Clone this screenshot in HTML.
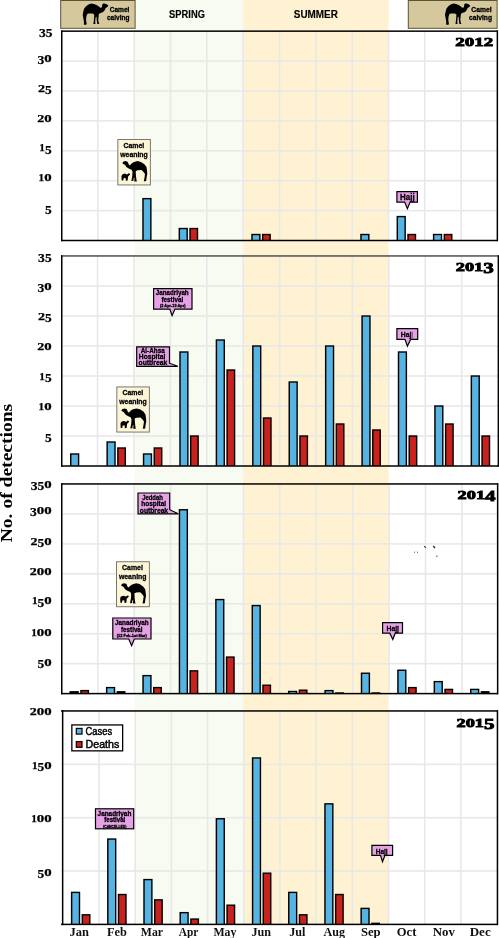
<!DOCTYPE html>
<html><head><meta charset="utf-8"><style>
html,body{margin:0;padding:0;background:#fff;}
svg{display:block;will-change:transform;}
.tk{font-family:"Liberation Serif",serif;font-weight:bold;fill:#000;stroke:#000;stroke-width:0.25px;}
.tick{font-family:"Liberation Serif",serif;font-weight:bold;font-size:12.5px;fill:#111;}
.year{font-family:"Liberation Serif",serif;font-weight:bold;font-size:13.5px;fill:#000;stroke:#000;stroke-width:0.9px;}
.xl{font-family:"Liberation Serif",serif;font-weight:bold;font-size:12px;fill:#111;}
.yt{font-family:"Liberation Serif",serif;font-weight:bold;font-size:17.5px;fill:#000;}
.an{font-family:"Liberation Sans",sans-serif;font-weight:bold;fill:#000;stroke:#000;stroke-width:0.3px;}
.lg{font-family:"Liberation Sans",sans-serif;fill:#000;stroke:#000;stroke-width:0.45px;}
.sea{font-family:"Liberation Sans",sans-serif;font-weight:bold;fill:#000;stroke:#000;stroke-width:0.15px;}
.hd{font-family:"Liberation Sans",sans-serif;font-weight:bold;fill:#000;stroke:#000;stroke-width:0.3px;}
</style></head><body>
<svg width="499" height="938" viewBox="0 0 499 938">
<rect x="134.60" y="0.00" width="108.60" height="924.00" fill="#f7fbf2" />
<rect x="243.20" y="0.00" width="145.40" height="924.00" fill="#fff2d2" />
<rect x="61.00" y="209.80" width="436.20" height="1.60" fill="#e8e8e8" />
<rect x="61.00" y="179.90" width="436.20" height="1.60" fill="#e8e8e8" />
<rect x="61.00" y="150.00" width="436.20" height="1.60" fill="#e8e8e8" />
<rect x="61.00" y="120.10" width="436.20" height="1.60" fill="#e8e8e8" />
<rect x="61.00" y="90.20" width="436.20" height="1.60" fill="#e8e8e8" />
<rect x="61.00" y="60.30" width="436.20" height="1.60" fill="#e8e8e8" />
<rect x="97.03" y="31.20" width="1.60" height="209.30" fill="#e8e8e8" />
<rect x="133.36" y="31.20" width="1.60" height="209.30" fill="#e8e8e8" />
<rect x="169.69" y="31.20" width="1.60" height="209.30" fill="#e8e8e8" />
<rect x="206.02" y="31.20" width="1.60" height="209.30" fill="#e8e8e8" />
<rect x="242.35" y="31.20" width="1.60" height="209.30" fill="#e8e8e8" />
<rect x="278.68" y="31.20" width="1.60" height="209.30" fill="#e8e8e8" />
<rect x="315.01" y="31.20" width="1.60" height="209.30" fill="#e8e8e8" />
<rect x="351.34" y="31.20" width="1.60" height="209.30" fill="#e8e8e8" />
<rect x="387.67" y="31.20" width="1.60" height="209.30" fill="#e8e8e8" />
<rect x="424.00" y="31.20" width="1.60" height="209.30" fill="#e8e8e8" />
<rect x="460.33" y="31.20" width="1.60" height="209.30" fill="#e8e8e8" />
<rect x="142.26" y="197.94" width="9.30" height="42.56" fill="#000" />
<rect x="143.71" y="199.34" width="6.45" height="41.16" fill="#56b3e2" />
<rect x="178.59" y="227.84" width="9.30" height="12.66" fill="#000" />
<rect x="180.04" y="229.24" width="6.45" height="11.26" fill="#56b3e2" />
<rect x="189.29" y="227.84" width="8.90" height="12.66" fill="#000" />
<rect x="190.74" y="229.24" width="6.05" height="11.26" fill="#c8221e" />
<rect x="251.25" y="233.82" width="9.30" height="6.68" fill="#000" />
<rect x="252.70" y="235.22" width="6.45" height="5.28" fill="#56b3e2" />
<rect x="261.95" y="233.82" width="8.90" height="6.68" fill="#000" />
<rect x="263.40" y="235.22" width="6.05" height="5.28" fill="#c8221e" />
<rect x="360.24" y="233.82" width="9.30" height="6.68" fill="#000" />
<rect x="361.69" y="235.22" width="6.45" height="5.28" fill="#56b3e2" />
<rect x="396.57" y="215.88" width="9.30" height="24.62" fill="#000" />
<rect x="398.02" y="217.28" width="6.45" height="23.22" fill="#56b3e2" />
<rect x="407.27" y="233.82" width="8.90" height="6.68" fill="#000" />
<rect x="408.72" y="235.22" width="6.05" height="5.28" fill="#c8221e" />
<rect x="432.90" y="233.82" width="9.30" height="6.68" fill="#000" />
<rect x="434.35" y="235.22" width="6.45" height="5.28" fill="#56b3e2" />
<rect x="443.60" y="233.82" width="8.90" height="6.68" fill="#000" />
<rect x="445.05" y="235.22" width="6.05" height="5.28" fill="#c8221e" />
<rect x="61.00" y="30.40" width="436.80" height="1.50" fill="#000" />
<rect x="61.00" y="239.75" width="436.80" height="1.50" fill="#000" />
<rect x="61.00" y="30.40" width="1.50" height="210.80" fill="#000" />
<rect x="496.60" y="30.40" width="1.50" height="210.80" fill="#000" />
<text x="44.90" y="213.60" class="tk" style="font-size:12.8px" textLength="6.70" lengthAdjust="spacingAndGlyphs">5</text>
<text x="38.60" y="181.30" class="tk" style="font-size:9.9px" textLength="5.60" lengthAdjust="spacingAndGlyphs">1</text>
<text x="44.20" y="181.30" class="tk" style="font-size:9.9px" textLength="7.40" lengthAdjust="spacingAndGlyphs">0</text>
<text x="39.30" y="151.40" class="tk" style="font-size:9.9px" textLength="5.60" lengthAdjust="spacingAndGlyphs">1</text>
<text x="44.90" y="153.80" class="tk" style="font-size:12.8px" textLength="6.70" lengthAdjust="spacingAndGlyphs">5</text>
<text x="37.20" y="121.50" class="tk" style="font-size:9.9px" textLength="7.00" lengthAdjust="spacingAndGlyphs">2</text>
<text x="44.20" y="121.50" class="tk" style="font-size:9.9px" textLength="7.40" lengthAdjust="spacingAndGlyphs">0</text>
<text x="37.90" y="91.60" class="tk" style="font-size:9.9px" textLength="7.00" lengthAdjust="spacingAndGlyphs">2</text>
<text x="44.90" y="94.00" class="tk" style="font-size:12.8px" textLength="6.70" lengthAdjust="spacingAndGlyphs">5</text>
<text x="37.40" y="64.10" class="tk" style="font-size:12.8px" textLength="6.80" lengthAdjust="spacingAndGlyphs">3</text>
<text x="44.20" y="61.70" class="tk" style="font-size:9.9px" textLength="7.40" lengthAdjust="spacingAndGlyphs">0</text>
<text x="39.00" y="36.80" class="tk" style="font-size:12.8px" textLength="6.80" lengthAdjust="spacingAndGlyphs">3</text>
<text x="45.80" y="36.80" class="tk" style="font-size:12.8px" textLength="6.70" lengthAdjust="spacingAndGlyphs">5</text>
<text x="455.3" y="46.0" class="year" textLength="38" lengthAdjust="spacingAndGlyphs">2012</text>
<rect x="61.00" y="435.20" width="437.20" height="1.60" fill="#e8e8e8" />
<rect x="61.00" y="405.20" width="437.20" height="1.60" fill="#e8e8e8" />
<rect x="61.00" y="375.20" width="437.20" height="1.60" fill="#e8e8e8" />
<rect x="61.00" y="345.20" width="437.20" height="1.60" fill="#e8e8e8" />
<rect x="61.00" y="315.20" width="437.20" height="1.60" fill="#e8e8e8" />
<rect x="61.00" y="285.20" width="437.20" height="1.60" fill="#e8e8e8" />
<rect x="96.72" y="256.00" width="1.60" height="210.00" fill="#e8e8e8" />
<rect x="133.14" y="256.00" width="1.60" height="210.00" fill="#e8e8e8" />
<rect x="169.56" y="256.00" width="1.60" height="210.00" fill="#e8e8e8" />
<rect x="205.98" y="256.00" width="1.60" height="210.00" fill="#e8e8e8" />
<rect x="242.40" y="256.00" width="1.60" height="210.00" fill="#e8e8e8" />
<rect x="278.82" y="256.00" width="1.60" height="210.00" fill="#e8e8e8" />
<rect x="315.24" y="256.00" width="1.60" height="210.00" fill="#e8e8e8" />
<rect x="351.66" y="256.00" width="1.60" height="210.00" fill="#e8e8e8" />
<rect x="388.08" y="256.00" width="1.60" height="210.00" fill="#e8e8e8" />
<rect x="424.50" y="256.00" width="1.60" height="210.00" fill="#e8e8e8" />
<rect x="460.92" y="256.00" width="1.60" height="210.00" fill="#e8e8e8" />
<rect x="70.00" y="453.30" width="9.30" height="12.70" fill="#000" />
<rect x="71.45" y="454.70" width="6.45" height="11.30" fill="#56b3e2" />
<rect x="106.42" y="441.30" width="9.30" height="24.70" fill="#000" />
<rect x="107.87" y="442.70" width="6.45" height="23.30" fill="#56b3e2" />
<rect x="117.12" y="447.30" width="8.90" height="18.70" fill="#000" />
<rect x="118.57" y="448.70" width="6.05" height="17.30" fill="#c8221e" />
<rect x="142.84" y="453.30" width="9.30" height="12.70" fill="#000" />
<rect x="144.29" y="454.70" width="6.45" height="11.30" fill="#56b3e2" />
<rect x="153.54" y="447.30" width="8.90" height="18.70" fill="#000" />
<rect x="154.99" y="448.70" width="6.05" height="17.30" fill="#c8221e" />
<rect x="179.26" y="351.30" width="9.30" height="114.70" fill="#000" />
<rect x="180.71" y="352.70" width="6.45" height="113.30" fill="#56b3e2" />
<rect x="189.96" y="435.30" width="8.90" height="30.70" fill="#000" />
<rect x="191.41" y="436.70" width="6.05" height="29.30" fill="#c8221e" />
<rect x="215.68" y="339.30" width="9.30" height="126.70" fill="#000" />
<rect x="217.13" y="340.70" width="6.45" height="125.30" fill="#56b3e2" />
<rect x="226.38" y="369.30" width="8.90" height="96.70" fill="#000" />
<rect x="227.83" y="370.70" width="6.05" height="95.30" fill="#c8221e" />
<rect x="252.10" y="345.30" width="9.30" height="120.70" fill="#000" />
<rect x="253.55" y="346.70" width="6.45" height="119.30" fill="#56b3e2" />
<rect x="262.80" y="417.30" width="8.90" height="48.70" fill="#000" />
<rect x="264.25" y="418.70" width="6.05" height="47.30" fill="#c8221e" />
<rect x="288.52" y="381.30" width="9.30" height="84.70" fill="#000" />
<rect x="289.97" y="382.70" width="6.45" height="83.30" fill="#56b3e2" />
<rect x="299.22" y="435.30" width="8.90" height="30.70" fill="#000" />
<rect x="300.67" y="436.70" width="6.05" height="29.30" fill="#c8221e" />
<rect x="324.94" y="345.30" width="9.30" height="120.70" fill="#000" />
<rect x="326.39" y="346.70" width="6.45" height="119.30" fill="#56b3e2" />
<rect x="335.64" y="423.30" width="8.90" height="42.70" fill="#000" />
<rect x="337.09" y="424.70" width="6.05" height="41.30" fill="#c8221e" />
<rect x="361.36" y="315.30" width="9.30" height="150.70" fill="#000" />
<rect x="362.81" y="316.70" width="6.45" height="149.30" fill="#56b3e2" />
<rect x="372.06" y="429.30" width="8.90" height="36.70" fill="#000" />
<rect x="373.51" y="430.70" width="6.05" height="35.30" fill="#c8221e" />
<rect x="397.78" y="351.30" width="9.30" height="114.70" fill="#000" />
<rect x="399.23" y="352.70" width="6.45" height="113.30" fill="#56b3e2" />
<rect x="408.48" y="435.30" width="8.90" height="30.70" fill="#000" />
<rect x="409.93" y="436.70" width="6.05" height="29.30" fill="#c8221e" />
<rect x="434.20" y="405.30" width="9.30" height="60.70" fill="#000" />
<rect x="435.65" y="406.70" width="6.45" height="59.30" fill="#56b3e2" />
<rect x="444.90" y="423.30" width="8.90" height="42.70" fill="#000" />
<rect x="446.35" y="424.70" width="6.05" height="41.30" fill="#c8221e" />
<rect x="470.62" y="375.30" width="9.30" height="90.70" fill="#000" />
<rect x="472.07" y="376.70" width="6.45" height="89.30" fill="#56b3e2" />
<rect x="481.32" y="435.30" width="8.90" height="30.70" fill="#000" />
<rect x="482.77" y="436.70" width="6.05" height="29.30" fill="#c8221e" />
<rect x="61.00" y="255.20" width="437.80" height="1.50" fill="#505050" />
<rect x="61.00" y="465.25" width="437.80" height="1.50" fill="#000" />
<rect x="61.00" y="255.20" width="1.50" height="211.50" fill="#000" />
<rect x="497.60" y="255.20" width="1.50" height="211.50" fill="#000" />
<text x="44.90" y="442.40" class="tk" style="font-size:12.8px" textLength="6.70" lengthAdjust="spacingAndGlyphs">5</text>
<text x="38.60" y="410.00" class="tk" style="font-size:9.9px" textLength="5.60" lengthAdjust="spacingAndGlyphs">1</text>
<text x="44.20" y="410.00" class="tk" style="font-size:9.9px" textLength="7.40" lengthAdjust="spacingAndGlyphs">0</text>
<text x="39.30" y="380.00" class="tk" style="font-size:9.9px" textLength="5.60" lengthAdjust="spacingAndGlyphs">1</text>
<text x="44.90" y="382.40" class="tk" style="font-size:12.8px" textLength="6.70" lengthAdjust="spacingAndGlyphs">5</text>
<text x="37.20" y="350.00" class="tk" style="font-size:9.9px" textLength="7.00" lengthAdjust="spacingAndGlyphs">2</text>
<text x="44.20" y="350.00" class="tk" style="font-size:9.9px" textLength="7.40" lengthAdjust="spacingAndGlyphs">0</text>
<text x="37.90" y="320.00" class="tk" style="font-size:9.9px" textLength="7.00" lengthAdjust="spacingAndGlyphs">2</text>
<text x="44.90" y="322.40" class="tk" style="font-size:12.8px" textLength="6.70" lengthAdjust="spacingAndGlyphs">5</text>
<text x="37.40" y="292.40" class="tk" style="font-size:12.8px" textLength="6.80" lengthAdjust="spacingAndGlyphs">3</text>
<text x="44.20" y="290.00" class="tk" style="font-size:9.9px" textLength="7.40" lengthAdjust="spacingAndGlyphs">0</text>
<text x="38.10" y="262.00" class="tk" style="font-size:12.8px" textLength="6.80" lengthAdjust="spacingAndGlyphs">3</text>
<text x="44.90" y="262.00" class="tk" style="font-size:12.8px" textLength="6.70" lengthAdjust="spacingAndGlyphs">5</text>
<text x="455.8" y="271.0" class="year" textLength="38" lengthAdjust="spacingAndGlyphs">201<tspan dy="2.0" style="font-size:15.5px">3</tspan></text>
<rect x="61.00" y="662.86" width="436.50" height="1.60" fill="#e8e8e8" />
<rect x="61.00" y="632.91" width="436.50" height="1.60" fill="#e8e8e8" />
<rect x="61.00" y="602.97" width="436.50" height="1.60" fill="#e8e8e8" />
<rect x="61.00" y="573.03" width="436.50" height="1.60" fill="#e8e8e8" />
<rect x="61.00" y="543.09" width="436.50" height="1.60" fill="#e8e8e8" />
<rect x="61.00" y="513.14" width="436.50" height="1.60" fill="#e8e8e8" />
<rect x="97.01" y="484.00" width="1.60" height="209.60" fill="#e8e8e8" />
<rect x="133.42" y="484.00" width="1.60" height="209.60" fill="#e8e8e8" />
<rect x="169.83" y="484.00" width="1.60" height="209.60" fill="#e8e8e8" />
<rect x="206.24" y="484.00" width="1.60" height="209.60" fill="#e8e8e8" />
<rect x="242.65" y="484.00" width="1.60" height="209.60" fill="#e8e8e8" />
<rect x="279.06" y="484.00" width="1.60" height="209.60" fill="#e8e8e8" />
<rect x="315.47" y="484.00" width="1.60" height="209.60" fill="#e8e8e8" />
<rect x="351.88" y="484.00" width="1.60" height="209.60" fill="#e8e8e8" />
<rect x="388.29" y="484.00" width="1.60" height="209.60" fill="#e8e8e8" />
<rect x="424.70" y="484.00" width="1.60" height="209.60" fill="#e8e8e8" />
<rect x="461.11" y="484.00" width="1.60" height="209.60" fill="#e8e8e8" />
<rect x="69.50" y="691.10" width="9.30" height="2.50" fill="#000" />
<rect x="80.20" y="689.91" width="8.90" height="3.69" fill="#000" />
<rect x="81.65" y="691.31" width="6.05" height="2.29" fill="#c8221e" />
<rect x="105.91" y="686.91" width="9.30" height="6.69" fill="#000" />
<rect x="107.36" y="688.31" width="6.45" height="5.29" fill="#56b3e2" />
<rect x="116.61" y="691.10" width="8.90" height="2.50" fill="#000" />
<rect x="142.32" y="674.93" width="9.30" height="18.67" fill="#000" />
<rect x="143.77" y="676.33" width="6.45" height="17.27" fill="#56b3e2" />
<rect x="153.02" y="686.91" width="8.90" height="6.69" fill="#000" />
<rect x="154.47" y="688.31" width="6.05" height="5.29" fill="#c8221e" />
<rect x="178.73" y="509.05" width="9.30" height="184.55" fill="#000" />
<rect x="180.18" y="510.45" width="6.45" height="183.15" fill="#56b3e2" />
<rect x="189.43" y="670.14" width="8.90" height="23.46" fill="#000" />
<rect x="190.88" y="671.54" width="6.05" height="22.06" fill="#c8221e" />
<rect x="215.14" y="598.88" width="9.30" height="94.72" fill="#000" />
<rect x="216.59" y="600.28" width="6.45" height="93.32" fill="#56b3e2" />
<rect x="225.84" y="656.37" width="8.90" height="37.23" fill="#000" />
<rect x="227.29" y="657.77" width="6.05" height="35.83" fill="#c8221e" />
<rect x="251.55" y="604.87" width="9.30" height="88.73" fill="#000" />
<rect x="253.00" y="606.27" width="6.45" height="87.33" fill="#56b3e2" />
<rect x="262.25" y="684.52" width="8.90" height="9.08" fill="#000" />
<rect x="263.70" y="685.92" width="6.05" height="7.68" fill="#c8221e" />
<rect x="287.96" y="690.80" width="9.30" height="2.80" fill="#000" />
<rect x="289.41" y="692.20" width="6.45" height="1.40" fill="#56b3e2" />
<rect x="298.66" y="689.49" width="8.90" height="4.11" fill="#000" />
<rect x="300.11" y="690.89" width="6.05" height="2.71" fill="#c8221e" />
<rect x="324.37" y="689.91" width="9.30" height="3.69" fill="#000" />
<rect x="325.82" y="691.31" width="6.45" height="2.29" fill="#56b3e2" />
<rect x="335.07" y="692.30" width="8.90" height="1.30" fill="#000" />
<rect x="360.78" y="672.54" width="9.30" height="21.06" fill="#000" />
<rect x="362.23" y="673.94" width="6.45" height="19.66" fill="#56b3e2" />
<rect x="371.48" y="692.30" width="8.90" height="1.30" fill="#000" />
<rect x="397.19" y="669.54" width="9.30" height="24.06" fill="#000" />
<rect x="398.64" y="670.94" width="6.45" height="22.66" fill="#56b3e2" />
<rect x="407.89" y="686.91" width="8.90" height="6.69" fill="#000" />
<rect x="409.34" y="688.31" width="6.05" height="5.29" fill="#c8221e" />
<rect x="433.60" y="680.92" width="9.30" height="12.68" fill="#000" />
<rect x="435.05" y="682.32" width="6.45" height="11.28" fill="#56b3e2" />
<rect x="444.30" y="688.71" width="8.90" height="4.89" fill="#000" />
<rect x="445.75" y="690.11" width="6.05" height="3.49" fill="#c8221e" />
<rect x="470.01" y="688.71" width="9.30" height="4.89" fill="#000" />
<rect x="471.46" y="690.11" width="6.45" height="3.49" fill="#56b3e2" />
<rect x="480.71" y="691.10" width="8.90" height="2.50" fill="#000" />
<rect x="61.00" y="483.20" width="437.10" height="1.50" fill="#000" />
<rect x="61.00" y="692.85" width="437.10" height="1.50" fill="#000" />
<rect x="61.00" y="483.20" width="1.50" height="211.10" fill="#000" />
<rect x="496.90" y="483.20" width="1.50" height="211.10" fill="#000" />
<text x="37.50" y="668.46" class="tk" style="font-size:12.8px" textLength="6.70" lengthAdjust="spacingAndGlyphs">5</text>
<text x="44.20" y="666.06" class="tk" style="font-size:9.9px" textLength="7.40" lengthAdjust="spacingAndGlyphs">0</text>
<text x="31.20" y="636.11" class="tk" style="font-size:9.9px" textLength="5.60" lengthAdjust="spacingAndGlyphs">1</text>
<text x="36.80" y="636.11" class="tk" style="font-size:9.9px" textLength="7.40" lengthAdjust="spacingAndGlyphs">0</text>
<text x="44.20" y="636.11" class="tk" style="font-size:9.9px" textLength="7.40" lengthAdjust="spacingAndGlyphs">0</text>
<text x="31.90" y="604.27" class="tk" style="font-size:9.9px" textLength="5.60" lengthAdjust="spacingAndGlyphs">1</text>
<text x="37.50" y="606.67" class="tk" style="font-size:12.8px" textLength="6.70" lengthAdjust="spacingAndGlyphs">5</text>
<text x="44.20" y="604.27" class="tk" style="font-size:9.9px" textLength="7.40" lengthAdjust="spacingAndGlyphs">0</text>
<text x="29.80" y="575.03" class="tk" style="font-size:9.9px" textLength="7.00" lengthAdjust="spacingAndGlyphs">2</text>
<text x="36.80" y="575.03" class="tk" style="font-size:9.9px" textLength="7.40" lengthAdjust="spacingAndGlyphs">0</text>
<text x="44.20" y="575.03" class="tk" style="font-size:9.9px" textLength="7.40" lengthAdjust="spacingAndGlyphs">0</text>
<text x="30.50" y="544.59" class="tk" style="font-size:9.9px" textLength="7.00" lengthAdjust="spacingAndGlyphs">2</text>
<text x="37.50" y="546.99" class="tk" style="font-size:12.8px" textLength="6.70" lengthAdjust="spacingAndGlyphs">5</text>
<text x="44.20" y="544.59" class="tk" style="font-size:9.9px" textLength="7.40" lengthAdjust="spacingAndGlyphs">0</text>
<text x="30.00" y="516.04" class="tk" style="font-size:12.8px" textLength="6.80" lengthAdjust="spacingAndGlyphs">3</text>
<text x="36.80" y="513.64" class="tk" style="font-size:9.9px" textLength="7.40" lengthAdjust="spacingAndGlyphs">0</text>
<text x="44.20" y="513.64" class="tk" style="font-size:9.9px" textLength="7.40" lengthAdjust="spacingAndGlyphs">0</text>
<text x="30.70" y="490.40" class="tk" style="font-size:12.8px" textLength="6.80" lengthAdjust="spacingAndGlyphs">3</text>
<text x="37.50" y="490.40" class="tk" style="font-size:12.8px" textLength="6.70" lengthAdjust="spacingAndGlyphs">5</text>
<text x="44.20" y="488.00" class="tk" style="font-size:9.9px" textLength="7.40" lengthAdjust="spacingAndGlyphs">0</text>
<text x="457.6" y="499.0" class="year" textLength="38" lengthAdjust="spacingAndGlyphs">201<tspan dy="2.0" style="font-size:15.5px">4</tspan></text>
<rect x="61.00" y="870.25" width="436.30" height="1.60" fill="#e8e8e8" />
<rect x="61.00" y="816.90" width="436.30" height="1.60" fill="#e8e8e8" />
<rect x="61.00" y="763.55" width="436.30" height="1.60" fill="#e8e8e8" />
<rect x="98.19" y="711.00" width="1.60" height="213.40" fill="#e8e8e8" />
<rect x="134.38" y="711.00" width="1.60" height="213.40" fill="#e8e8e8" />
<rect x="170.57" y="711.00" width="1.60" height="213.40" fill="#e8e8e8" />
<rect x="206.76" y="711.00" width="1.60" height="213.40" fill="#e8e8e8" />
<rect x="242.95" y="711.00" width="1.60" height="213.40" fill="#e8e8e8" />
<rect x="279.14" y="711.00" width="1.60" height="213.40" fill="#e8e8e8" />
<rect x="315.33" y="711.00" width="1.60" height="213.40" fill="#e8e8e8" />
<rect x="351.52" y="711.00" width="1.60" height="213.40" fill="#e8e8e8" />
<rect x="387.71" y="711.00" width="1.60" height="213.40" fill="#e8e8e8" />
<rect x="423.90" y="711.00" width="1.60" height="213.40" fill="#e8e8e8" />
<rect x="460.09" y="711.00" width="1.60" height="213.40" fill="#e8e8e8" />
<rect x="70.90" y="891.69" width="9.30" height="32.71" fill="#000" />
<rect x="72.35" y="893.09" width="6.45" height="31.31" fill="#56b3e2" />
<rect x="81.60" y="914.10" width="8.90" height="10.30" fill="#000" />
<rect x="83.05" y="915.50" width="6.05" height="8.90" fill="#c8221e" />
<rect x="107.09" y="838.34" width="9.30" height="86.06" fill="#000" />
<rect x="108.54" y="839.74" width="6.45" height="84.66" fill="#56b3e2" />
<rect x="117.79" y="893.82" width="8.90" height="30.58" fill="#000" />
<rect x="119.24" y="895.22" width="6.05" height="29.18" fill="#c8221e" />
<rect x="143.28" y="878.89" width="9.30" height="45.51" fill="#000" />
<rect x="144.73" y="880.29" width="6.45" height="44.11" fill="#56b3e2" />
<rect x="153.98" y="899.16" width="8.90" height="25.24" fill="#000" />
<rect x="155.43" y="900.56" width="6.05" height="23.84" fill="#c8221e" />
<rect x="179.47" y="911.96" width="9.30" height="12.44" fill="#000" />
<rect x="180.92" y="913.36" width="6.45" height="11.04" fill="#56b3e2" />
<rect x="190.17" y="918.36" width="8.90" height="6.04" fill="#000" />
<rect x="191.62" y="919.76" width="6.05" height="4.64" fill="#c8221e" />
<rect x="215.66" y="818.07" width="9.30" height="106.33" fill="#000" />
<rect x="217.11" y="819.47" width="6.45" height="104.93" fill="#56b3e2" />
<rect x="226.36" y="904.49" width="8.90" height="19.91" fill="#000" />
<rect x="227.81" y="905.89" width="6.05" height="18.51" fill="#c8221e" />
<rect x="251.85" y="757.25" width="9.30" height="167.15" fill="#000" />
<rect x="253.30" y="758.65" width="6.45" height="165.75" fill="#56b3e2" />
<rect x="262.55" y="872.48" width="8.90" height="51.92" fill="#000" />
<rect x="264.00" y="873.88" width="6.05" height="50.52" fill="#c8221e" />
<rect x="288.04" y="891.69" width="9.30" height="32.71" fill="#000" />
<rect x="289.49" y="893.09" width="6.45" height="31.31" fill="#56b3e2" />
<rect x="298.74" y="914.10" width="8.90" height="10.30" fill="#000" />
<rect x="300.19" y="915.50" width="6.05" height="8.90" fill="#c8221e" />
<rect x="324.23" y="803.13" width="9.30" height="121.27" fill="#000" />
<rect x="325.68" y="804.53" width="6.45" height="119.87" fill="#56b3e2" />
<rect x="334.93" y="893.82" width="8.90" height="30.58" fill="#000" />
<rect x="336.38" y="895.22" width="6.05" height="29.18" fill="#c8221e" />
<rect x="360.42" y="907.69" width="9.30" height="16.70" fill="#000" />
<rect x="361.87" y="909.10" width="6.45" height="15.30" fill="#56b3e2" />
<rect x="371.12" y="922.63" width="8.90" height="1.77" fill="#000" />
<rect x="61.00" y="710.20" width="436.90" height="1.50" fill="#000" />
<rect x="61.00" y="923.65" width="436.90" height="1.50" fill="#000" />
<rect x="61.90" y="710.20" width="1.50" height="214.90" fill="#000" />
<rect x="496.70" y="710.20" width="1.50" height="214.90" fill="#000" />
<text x="37.50" y="877.95" class="tk" style="font-size:12.8px" textLength="6.70" lengthAdjust="spacingAndGlyphs">5</text>
<text x="44.20" y="875.55" class="tk" style="font-size:9.9px" textLength="7.40" lengthAdjust="spacingAndGlyphs">0</text>
<text x="31.20" y="822.20" class="tk" style="font-size:9.9px" textLength="5.60" lengthAdjust="spacingAndGlyphs">1</text>
<text x="36.80" y="822.20" class="tk" style="font-size:9.9px" textLength="7.40" lengthAdjust="spacingAndGlyphs">0</text>
<text x="44.20" y="822.20" class="tk" style="font-size:9.9px" textLength="7.40" lengthAdjust="spacingAndGlyphs">0</text>
<text x="31.90" y="768.85" class="tk" style="font-size:9.9px" textLength="5.60" lengthAdjust="spacingAndGlyphs">1</text>
<text x="37.50" y="771.25" class="tk" style="font-size:12.8px" textLength="6.70" lengthAdjust="spacingAndGlyphs">5</text>
<text x="44.20" y="768.85" class="tk" style="font-size:9.9px" textLength="7.40" lengthAdjust="spacingAndGlyphs">0</text>
<text x="29.80" y="715.00" class="tk" style="font-size:9.9px" textLength="7.00" lengthAdjust="spacingAndGlyphs">2</text>
<text x="36.80" y="715.00" class="tk" style="font-size:9.9px" textLength="7.40" lengthAdjust="spacingAndGlyphs">0</text>
<text x="44.20" y="715.00" class="tk" style="font-size:9.9px" textLength="7.40" lengthAdjust="spacingAndGlyphs">0</text>
<text x="456.5" y="727.1" class="year" textLength="38" lengthAdjust="spacingAndGlyphs">201<tspan dy="2.0" style="font-size:15.5px">5</tspan></text>
<text x="69.6" y="936" class="xl" textLength="19.4" lengthAdjust="spacingAndGlyphs">Jan</text>
<text x="107.0" y="936" class="xl" textLength="19.9" lengthAdjust="spacingAndGlyphs">Feb</text>
<text x="140.8" y="936" class="xl" textLength="22.2" lengthAdjust="spacingAndGlyphs">Mar</text>
<text x="178.7" y="936" class="xl" textLength="19.6" lengthAdjust="spacingAndGlyphs">Apr</text>
<text x="213.4" y="936" class="xl" textLength="23.0" lengthAdjust="spacingAndGlyphs">May</text>
<text x="251.5" y="936" class="xl" textLength="19.6" lengthAdjust="spacingAndGlyphs">Jun</text>
<text x="289.2" y="936" class="xl" textLength="16.2" lengthAdjust="spacingAndGlyphs">Jul</text>
<text x="323.6" y="936" class="xl" textLength="21.4" lengthAdjust="spacingAndGlyphs">Aug</text>
<text x="360.9" y="936" class="xl" textLength="19.7" lengthAdjust="spacingAndGlyphs">Sep</text>
<text x="396.8" y="936" class="xl" textLength="19.6" lengthAdjust="spacingAndGlyphs">Oct</text>
<text x="432.8" y="936" class="xl" textLength="22.2" lengthAdjust="spacingAndGlyphs">Nov</text>
<text x="469.7" y="936" class="xl" textLength="21.0" lengthAdjust="spacingAndGlyphs">Dec</text>
<text transform="translate(12.4,542.3) rotate(-90)" class="yt" textLength="138.5" lengthAdjust="spacingAndGlyphs">No. of detections</text>
<rect x="60.70" y="0.50" width="74.40" height="27.80" fill="#d5c89c" stroke="#5c5535" stroke-width="1.0"/>
<rect x="408.30" y="0.50" width="88.80" height="27.80" fill="#d5c89c" stroke="#5c5535" stroke-width="1.0"/>
<path d="M21.35,0.1 L23.75,1.0 L25.26,2.5 L24.36,3.7 L22.55,4.6 L21.95,6.4 L20.15,8.5 L17.1,9.7 L15.9,10.6 L15.3,16.6 L15.9,19.6 L16.5,20.4 L14.4,20.4 L13.8,16.6 L13.65,13.6 L13.2,13.3 L12.6,14.2 L12.3,19 L12.6,20.4 L10.5,20.4 L11,16.6 L11.4,11.2 L9.9,10 L5.7,10 L4.5,10.6 L3.6,13 L3.3,16.6 L3.9,20.2 L3.6,21.15 L1.2,21.15 L1.2,18.4 L0.6,14.2 L0,11.8 L0.6,8.2 L1.5,5.2 L3.3,2.8 L5.7,1.3 L8.4,0.1 L11.1,0.7 L14.1,1.9 L16.5,3.7 L18,4.6 L19,3.4 L19.25,1.3 L20.15,0.3 Z" fill="#000" transform="translate(82.70,3.30) scale(1.0154,1.0143)"/>
<path d="M21.35,0.1 L23.75,1.0 L25.26,2.5 L24.36,3.7 L22.55,4.6 L21.95,6.4 L20.15,8.5 L17.1,9.7 L15.9,10.6 L15.3,16.6 L15.9,19.6 L16.5,20.4 L14.4,20.4 L13.8,16.6 L13.65,13.6 L13.2,13.3 L12.6,14.2 L12.3,19 L12.6,20.4 L10.5,20.4 L11,16.6 L11.4,11.2 L9.9,10 L5.7,10 L4.5,10.6 L3.6,13 L3.3,16.6 L3.9,20.2 L3.6,21.15 L1.2,21.15 L1.2,18.4 L0.6,14.2 L0,11.8 L0.6,8.2 L1.5,5.2 L3.3,2.8 L5.7,1.3 L8.4,0.1 L11.1,0.7 L14.1,1.9 L16.5,3.7 L18,4.6 L19,3.4 L19.25,1.3 L20.15,0.3 Z" fill="#000" transform="translate(445.00,3.30) scale(1.0000,1.0095)"/>
<text x="109.70" y="11.80" class="hd" style="font-size:6.8px" textLength="19.70" lengthAdjust="spacingAndGlyphs">Camel</text>
<text x="107.00" y="20.30" class="hd" style="font-size:6.8px" textLength="22.40" lengthAdjust="spacingAndGlyphs">calving</text>
<text x="471.30" y="11.70" class="hd" style="font-size:6.8px" textLength="20.30" lengthAdjust="spacingAndGlyphs">Camel</text>
<text x="469.00" y="20.20" class="hd" style="font-size:6.8px" textLength="23.00" lengthAdjust="spacingAndGlyphs">calving</text>
<text x="169.10" y="17.60" class="sea" style="font-size:10.6px" textLength="35.80" lengthAdjust="spacingAndGlyphs">SPRING</text>
<text x="293.80" y="17.60" class="sea" style="font-size:10.6px" textLength="44.00" lengthAdjust="spacingAndGlyphs">SUMMER</text>
<rect x="117.85" y="139.55" width="32.50" height="45.40" fill="#fdf5d8" stroke="#6b6b60" stroke-width="0.9"/>
<text x="123.40" y="147.90" class="hd" style="font-size:7.9px" textLength="20.80" lengthAdjust="spacingAndGlyphs">Camel</text>
<text x="120.20" y="156.50" class="hd" style="font-size:7.6px" textLength="27.60" lengthAdjust="spacingAndGlyphs">weaning</text>
<path d="M4.90,24.00 L6.10,22.50 L8.40,21.90 L10.40,22.80 L11.30,25.10 L12.50,26.30 L13.90,24.60 L16.00,23.10 L20.00,21.90 L23.50,22.80 L27.00,25.10 L29.10,28.00 L29.60,31.50 L29.90,34.40 L29.10,39.10 L28.80,42.00 L26.40,42.30 L27.00,39.10 L27.60,35.00 L25.90,32.70 L24.10,30.90 L20.00,31.20 L18.30,32.10 L18.60,37.30 L19.20,41.40 L19.50,42.30 L16.80,42.30 L17.10,38.50 L16.30,39.10 L16.00,41.70 L13.90,41.90 L14.80,37.30 L15.10,32.70 L14.20,30.70 L11.30,29.50 L9.00,28.00 L7.50,25.70 L5.80,24.80 Z" fill="#000" transform="translate(117.40,139.10)"/><path d="M4.90,35.30 L7.30,34.40 L9.60,35.30 L10.40,35.00 L11.30,34.10 L12.20,34.40 L12.80,35.30 L11.60,36.50 L10.70,37.30 L10.20,41.40 L8.40,41.70 L8.40,39.10 L6.40,38.90 L5.80,41.40 L4.30,41.50 L4.10,38.50 L4.10,36.80 Z" fill="#000" transform="translate(117.40,139.10)"/>
<rect x="116.85" y="386.95" width="32.50" height="45.10" fill="#fdf5d8" stroke="#6b6b60" stroke-width="0.9"/>
<text x="122.40" y="395.30" class="hd" style="font-size:7.9px" textLength="20.80" lengthAdjust="spacingAndGlyphs">Camel</text>
<text x="119.20" y="403.90" class="hd" style="font-size:7.6px" textLength="27.60" lengthAdjust="spacingAndGlyphs">weaning</text>
<path d="M4.90,24.00 L6.10,22.50 L8.40,21.90 L10.40,22.80 L11.30,25.10 L12.50,26.30 L13.90,24.60 L16.00,23.10 L20.00,21.90 L23.50,22.80 L27.00,25.10 L29.10,28.00 L29.60,31.50 L29.90,34.40 L29.10,39.10 L28.80,42.00 L26.40,42.30 L27.00,39.10 L27.60,35.00 L25.90,32.70 L24.10,30.90 L20.00,31.20 L18.30,32.10 L18.60,37.30 L19.20,41.40 L19.50,42.30 L16.80,42.30 L17.10,38.50 L16.30,39.10 L16.00,41.70 L13.90,41.90 L14.80,37.30 L15.10,32.70 L14.20,30.70 L11.30,29.50 L9.00,28.00 L7.50,25.70 L5.80,24.80 Z" fill="#000" transform="translate(116.40,386.50)"/><path d="M4.90,35.30 L7.30,34.40 L9.60,35.30 L10.40,35.00 L11.30,34.10 L12.20,34.40 L12.80,35.30 L11.60,36.50 L10.70,37.30 L10.20,41.40 L8.40,41.70 L8.40,39.10 L6.40,38.90 L5.80,41.40 L4.30,41.50 L4.10,38.50 L4.10,36.80 Z" fill="#000" transform="translate(116.40,386.50)"/>
<rect x="116.55" y="561.75" width="32.80" height="45.00" fill="#fdf5d8" stroke="#6b6b60" stroke-width="0.9"/>
<text x="122.10" y="570.10" class="hd" style="font-size:7.9px" textLength="20.80" lengthAdjust="spacingAndGlyphs">Camel</text>
<text x="118.90" y="578.70" class="hd" style="font-size:7.6px" textLength="27.60" lengthAdjust="spacingAndGlyphs">weaning</text>
<path d="M4.90,24.00 L6.10,22.50 L8.40,21.90 L10.40,22.80 L11.30,25.10 L12.50,26.30 L13.90,24.60 L16.00,23.10 L20.00,21.90 L23.50,22.80 L27.00,25.10 L29.10,28.00 L29.60,31.50 L29.90,34.40 L29.10,39.10 L28.80,42.00 L26.40,42.30 L27.00,39.10 L27.60,35.00 L25.90,32.70 L24.10,30.90 L20.00,31.20 L18.30,32.10 L18.60,37.30 L19.20,41.40 L19.50,42.30 L16.80,42.30 L17.10,38.50 L16.30,39.10 L16.00,41.70 L13.90,41.90 L14.80,37.30 L15.10,32.70 L14.20,30.70 L11.30,29.50 L9.00,28.00 L7.50,25.70 L5.80,24.80 Z" fill="#000" transform="translate(116.10,561.30)"/><path d="M4.90,35.30 L7.30,34.40 L9.60,35.30 L10.40,35.00 L11.30,34.10 L12.20,34.40 L12.80,35.30 L11.60,36.50 L10.70,37.30 L10.20,41.40 L8.40,41.70 L8.40,39.10 L6.40,38.90 L5.80,41.40 L4.30,41.50 L4.10,38.50 L4.10,36.80 Z" fill="#000" transform="translate(116.10,561.30)"/>
<path d="M396.90,191.60 H417.40 V202.10 H410.10 L407.40,208.70 L404.70,202.10 H396.90 Z" fill="#e6a2e6" stroke="#000" stroke-width="1.2" stroke-linejoin="miter"/>
<text x="400.10" y="199.90" class="an" style="font-size:8.5px" textLength="14.50" lengthAdjust="spacingAndGlyphs">Hajj</text>
<path d="M396.90,328.70 H417.70 V339.30 H410.70 L407.40,346.10 L405.00,339.30 H396.90 Z" fill="#e6a2e6" stroke="#000" stroke-width="1.2" stroke-linejoin="miter"/>
<text x="400.80" y="336.60" class="an" style="font-size:7.3px" textLength="12.40" lengthAdjust="spacingAndGlyphs">Haj<tspan style="fill:#7a4a7a;stroke:#7a4a7a">j</tspan></text>
<path d="M382.60,622.60 H402.50 V633.20 H395.20 L392.80,639.40 L389.80,633.20 H382.60 Z" fill="#e6a2e6" stroke="#000" stroke-width="1.2" stroke-linejoin="miter"/>
<text x="386.50" y="631.00" class="an" style="font-size:8px" textLength="12.50" lengthAdjust="spacingAndGlyphs">Hajj</text>
<path d="M371.90,845.30 H392.60 V855.30 H385.00 L382.50,861.70 L380.50,855.30 H371.90 Z" fill="#e6a2e6" stroke="#000" stroke-width="1.2" stroke-linejoin="miter"/>
<text x="375.70" y="853.60" class="an" style="font-size:7.5px" textLength="12.00" lengthAdjust="spacingAndGlyphs">Hajj</text>
<path d="M153.60,288.60 H192.00 V309.10 H174.90 L172.10,315.70 L169.80,309.10 H153.60 Z" fill="#e6a2e6" stroke="#000" stroke-width="1.2" stroke-linejoin="miter"/>
<text x="155.70" y="295.20" class="an" style="font-size:6.6px" textLength="33.00" lengthAdjust="spacingAndGlyphs">Janadriyah</text>
<text x="161.50" y="301.90" class="an" style="font-size:6.6px" textLength="21.70" lengthAdjust="spacingAndGlyphs">festival</text>
<text x="160.00" y="307.20" class="an" style="font-size:4.0px" textLength="25.50" lengthAdjust="spacingAndGlyphs">(2 Apr-19 Apr)</text>
<path d="M136.70,346.80 H169.50 V363.20 L177.80,366.30 H136.70 Z" fill="#e6a2e6" stroke="#000" stroke-width="1.2" stroke-linejoin="miter"/>
<text x="140.70" y="352.60" class="an" style="font-size:6.8px" textLength="24.10" lengthAdjust="spacingAndGlyphs">Al-Ahsa</text>
<text x="138.80" y="358.90" class="an" style="font-size:6.8px" textLength="26.50" lengthAdjust="spacingAndGlyphs">Hospital</text>
<text x="138.60" y="365.30" class="an" style="font-size:6.8px" textLength="28.60" lengthAdjust="spacingAndGlyphs">outbreak</text>
<path d="M138.00,493.00 H169.70 V509.70 L178.20,513.80 H138.00 Z" fill="#e6a2e6" stroke="#000" stroke-width="1.2" stroke-linejoin="miter"/>
<text x="142.20" y="500.00" class="an" style="font-size:6.8px" textLength="20.60" lengthAdjust="spacingAndGlyphs">Jeddah</text>
<text x="141.20" y="506.40" class="an" style="font-size:6.8px" textLength="25.00" lengthAdjust="spacingAndGlyphs">hospital</text>
<text x="139.80" y="512.80" class="an" style="font-size:6.8px" textLength="28.30" lengthAdjust="spacingAndGlyphs">outbreak</text>
<path d="M112.80,618.00 H151.00 V639.00 H134.30 L131.60,645.70 L128.80,639.00 H112.80 Z" fill="#e6a2e6" stroke="#000" stroke-width="1.2" stroke-linejoin="miter"/>
<text x="115.00" y="624.90" class="an" style="font-size:6.6px" textLength="33.60" lengthAdjust="spacingAndGlyphs">Janadriyah</text>
<text x="121.00" y="631.50" class="an" style="font-size:6.6px" textLength="21.60" lengthAdjust="spacingAndGlyphs">festival</text>
<text x="116.80" y="637.10" class="an" style="font-size:4.0px" textLength="30.00" lengthAdjust="spacingAndGlyphs">(12 Feb-1st Mar)</text>
<rect x="95.50" y="808.80" width="38.20" height="20.00" fill="#e6a2e6" stroke="#000" stroke-width="1.2"/>
<text x="97.60" y="815.60" class="an" style="font-size:6.6px" textLength="33.70" lengthAdjust="spacingAndGlyphs">Janadriyah</text>
<text x="104.20" y="822.20" class="an" style="font-size:6.6px" textLength="21.10" lengthAdjust="spacingAndGlyphs">festival</text>
<text x="103.00" y="827.60" class="an" style="font-size:3.9px" textLength="23.50" lengthAdjust="spacingAndGlyphs">(CANCELLED)</text>
<path d="M424.3,546.2 L425.8,547.8" stroke="#333" stroke-width="1.1"/>
<path d="M433.2,546.0 L435.0,548.0" stroke="#333" stroke-width="1.3"/>
<rect x="414.0" y="551.7" width="1" height="1" fill="#555"/>
<rect x="417.0" y="551.7" width="1" height="1" fill="#444"/>
<rect x="436.0" y="555.7" width="1.6" height="1" fill="#555"/>
<rect x="71.85" y="724.95" width="50.80" height="25.90" fill="#fff" stroke="#000" stroke-width="1.3"/>
<rect x="76.30" y="728.40" width="5.70" height="5.70" fill="#56b3e2" stroke="#000" stroke-width="1.2"/>
<rect x="76.30" y="741.60" width="5.70" height="5.70" fill="#c8221e" stroke="#000" stroke-width="1.2"/>
<text x="85.60" y="735.00" class="lg" style="font-size:10px" textLength="26.50" lengthAdjust="spacingAndGlyphs">Cases</text>
<text x="85.60" y="747.90" class="lg" style="font-size:10px" textLength="33.70" lengthAdjust="spacingAndGlyphs">Deaths</text>
</svg>
</body></html>
